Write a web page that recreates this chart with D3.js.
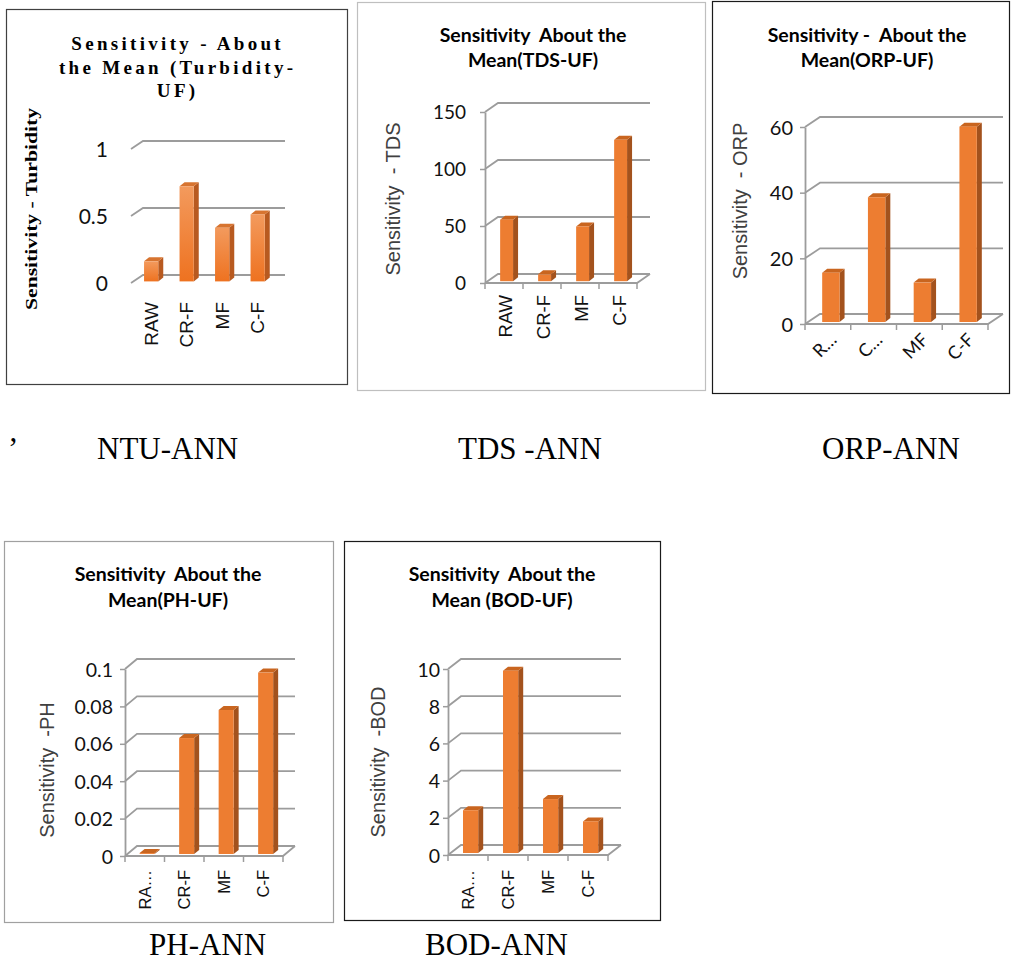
<!DOCTYPE html>
<html>
<head>
<meta charset="utf-8">
<script src="https://cdn.jsdelivr.net/npm/d3@7"></script>
<style>
  html, body { margin: 0; padding: 0; background: #ffffff; }
  svg { display: block; }
  text { white-space: pre; }
</style>
</head>
<body>
<svg id="fig" width="1012" height="961"></svg>
<script>
// ---- data ----
const categories = ["RAW", "CR-F", "MF", "C-F"];

const turbidityValues = [0.15, 0.71, 0.40, 0.50];
const tdsValues = [54, 6, 48, 124];
const orpValues = [15, 38, 12, 59.5];
const phValues = [0.0005, 0.062, 0.077, 0.097];
const bodValues = [2.3, 9.8, 2.9, 1.7];

const turbidityTicks = [0, 0.5, 1];
const tdsTicks = [0, 50, 100, 150];
const orpTicks = [0, 20, 40, 60];
const phTicks = [0, 0.02, 0.04, 0.06, 0.08, 0.1];
const bodTicks = [0, 2, 4, 6, 8, 10];

const turbidityLabels = ["RAW", "CR-F", "MF", "C-F"];
const tdsLabels = ["RAW", "CR-F", "MF", "C-F"];
const orpLabels = ["R\u2026", "C\u2026", "MF", "C-F"];
const phLabels = ["RA\u2026", "CR-F", "MF", "C-F"];
const bodLabels = ["RA\u2026", "CR-F", "MF", "C-F"];

const captions = ["NTU-ANN", "TDS -ANN", "ORP-ANN", "PH-ANN", "BOD-ANN"];

// ---- layout ----
const svg = d3.select("#fig");
const CAL = "Lato, 'Open Sans', sans-serif";
const ARIAL = "'Liberation Sans', Arial, sans-serif";
const TIMES = "'Liberation Serif', 'Times New Roman', serif";

const panels = [
  {
    values: turbidityValues, ticks: turbidityTicks, labels: turbidityLabels,
    frame: [6, 9, 341, 375], frameColor: "#404040",
    title: ["Sensitivity - About", "the Mean (Turbidity-", "UF)"],
    titleX: 176, titleY: [50, 74, 97], titleFont: TIMES, titleSize: 19, titleSpacing: 3.3,
    yTitle: "Sensitivity - Turbidity", yTitleX: 37, yTitleMid: 209, yTitleFont: TIMES, yTitleSize: 17, yTitleWeight: "bold", yTitleLen: 202,
    x0: 131, x1: 273, y0: 283, yTop: 149, dx: 12, dy: -8,
    axisLine: false, tickSize: 0, tickRight: 108, tickFontSize: 21,
    catMode: "v", catTop: 302, catSize: 19, catShift: 2,
    pad: 0.6, gradient: true
  },
  {
    values: tdsValues, ticks: tdsTicks, labels: tdsLabels,
    frame: [357, 2, 348, 388], frameColor: "#bfbfbf",
    title: ["Sensitivity  About the", "Mean(TDS-UF)"],
    titleX: 533, titleY: [42, 67], titleFont: CAL, titleSize: 19.5, titleSpacing: 0,
    yTitle: "Sensitivity  - TDS", yTitleX: 400, yTitleMid: 199, yTitleFont: ARIAL, yTitleSize: 20, yTitleWeight: "normal",
    x0: 485, x1: 637, y0: 283, yTop: 112, dx: 13, dy: -9,
    axisLine: true, tickSize: 5, tickRight: 466, tickFontSize: 19,
    catMode: "v", catTop: 295, catSize: 18.5, catShift: 1,
    pad: 0.66, gradient: false
  },
  {
    values: orpValues, ticks: orpTicks, labels: orpLabels,
    frame: [712, 1, 297, 392], frameColor: "#1a1a1a",
    title: ["Sensitivity -  About the", "Mean(ORP-UF)"],
    titleX: 867, titleY: [42, 67], titleFont: CAL, titleSize: 19.5, titleSpacing: 0,
    yTitle: "Sensitivity  - ORP", yTitleX: 747, yTitleMid: 201, yTitleFont: ARIAL, yTitleSize: 20, yTitleWeight: "normal",
    x0: 805, x1: 988, y0: 324, yTop: 127, dx: 15, dy: -10,
    axisLine: true, tickSize: 5, tickRight: 793, tickFontSize: 20,
    catMode: "d", catTop: 341, catSize: 18, catShift: 10,
    pad: 0.62, gradient: false
  },
  {
    values: phValues, ticks: phTicks, labels: phLabels,
    frame: [4, 541, 329, 381], frameColor: "#a0a0a0",
    title: ["Sensitivity  About the", "Mean(PH-UF)"],
    titleX: 168, titleY: [581, 607], titleFont: CAL, titleSize: 19.5, titleSpacing: 0,
    yTitle: "Sensitivity  -PH", yTitleX: 54, yTitleMid: 770, yTitleFont: ARIAL, yTitleSize: 20, yTitleWeight: "normal",
    x0: 125, x1: 283, y0: 856, yTop: 669, dx: 12, dy: -10,
    axisLine: true, tickSize: 5, tickRight: 113, tickFontSize: 19.5,
    catMode: "v", catTop: 870, catSize: 16.5, catShift: 0,
    pad: 0.62, gradient: false
  },
  {
    values: bodValues, ticks: bodTicks, labels: bodLabels,
    frame: [344, 541, 316, 379], frameColor: "#1a1a1a",
    title: ["Sensitivity  About the", "Mean (BOD-UF)"],
    titleX: 502, titleY: [581, 607], titleFont: CAL, titleSize: 19.5, titleSpacing: 0,
    yTitle: "Sensitivity  -BOD", yTitleX: 385, yTitleMid: 762, yTitleFont: ARIAL, yTitleSize: 20, yTitleWeight: "normal",
    x0: 448, x1: 608, y0: 855, yTop: 669, dx: 13, dy: -10,
    axisLine: true, tickSize: 5, tickRight: 440, tickFontSize: 19.5,
    catMode: "v", catTop: 870, catSize: 16.5, catShift: 0,
    pad: 0.62, gradient: false
  }
];

// vertical gradient for the shaded bars of the first chart
const defs = svg.append("defs");
const grad = defs.append("linearGradient").attr("id", "barGrad")
  .attr("x1", 0).attr("y1", 0).attr("x2", 0).attr("y2", 1);
grad.append("stop").attr("offset", "0%").attr("stop-color", "#f39a5d");
grad.append("stop").attr("offset", "100%").attr("stop-color", "#ee7220");

const GRID = "#9c9c9c";

function drawPanel(p) {
  const g = svg.append("g");

  // frame
  g.append("rect")
    .attr("x", p.frame[0] + 0.5).attr("y", p.frame[1] + 0.5)
    .attr("width", p.frame[2]).attr("height", p.frame[3])
    .attr("fill", "#fff").attr("stroke", p.frameColor).attr("stroke-width", 1.2);

  // title
  p.title.forEach((line, i) => {
    g.append("text")
      .attr("x", p.titleX + p.titleSpacing / 2).attr("y", p.titleY[i])
      .attr("text-anchor", "middle")
      .attr("font-family", p.titleFont).attr("font-weight", "bold")
      .attr("font-size", p.titleSize)
      .attr("letter-spacing", p.titleSpacing)
      .attr("fill", "#000")
      .text(line);
  });

  // scales
  const y = d3.scaleLinear()
    .domain([p.ticks[0], p.ticks[p.ticks.length - 1]])
    .range([p.y0, p.yTop]);
  const x = d3.scaleBand().domain(categories)
    .range([p.x0, p.x1]).paddingInner(p.pad).paddingOuter(p.pad / 2);

  // gridlines on the back wall, joined to the front by a short slant
  g.append("g").selectAll("path").data(p.ticks).join("path")
    .attr("d", t => {
      const yy = y(t);
      return `M${p.x0},${yy} L${p.x0 + p.dx},${yy + p.dy} L${p.x1 + p.dx},${yy + p.dy}`;
    })
    .attr("fill", "none").attr("stroke", GRID).attr("stroke-width", 1.8);

  if (p.axisLine) {
    // floor outline
    g.append("path")
      .attr("d", `M${p.x0},${p.y0} L${p.x1},${p.y0} L${p.x1 + p.dx},${p.y0 + p.dy}`)
      .attr("fill", "none").attr("stroke", GRID).attr("stroke-width", 1.8);
    // category boundary ticks
    g.append("g").selectAll("line").data(d3.range(categories.length + 1)).join("line")
      .attr("x1", i => p.x0 + i * x.step()).attr("x2", i => p.x0 + i * x.step())
      .attr("y1", p.y0).attr("y2", p.y0 + 6)
      .attr("stroke", GRID).attr("stroke-width", 1.5);
  }

  // value axis
  const axis = d3.axisLeft(y).tickValues(p.ticks)
    .tickSize(p.tickSize).tickSizeOuter(0)
    .tickPadding(p.x0 - p.tickRight - p.tickSize)
    .tickFormat(d3.format("~g"));
  const ag = g.append("g").attr("transform", `translate(${p.x0},0)`).call(axis);
  ag.select(".domain").attr("stroke", p.axisLine ? GRID : "none").attr("stroke-width", 1.8);
  ag.selectAll(".tick line").attr("stroke", GRID).attr("stroke-width", 1.5);
  ag.selectAll(".tick text")
    .attr("font-family", CAL).attr("font-size", p.tickFontSize)
    .attr("fill", "#111").attr("dy", "0.36em");

  // axis title
  const yt = g.append("text")
    .attr("transform", `translate(${p.yTitleX},${p.yTitleMid}) rotate(-90)`)
    .attr("text-anchor", "middle")
    .attr("font-family", p.yTitleFont).attr("font-size", p.yTitleSize)
    .attr("font-weight", p.yTitleWeight)
    .attr("fill", p.yTitleWeight === "bold" ? "#000" : "#404040")
    .text(p.yTitle);
  if (p.yTitleLen) yt.attr("textLength", p.yTitleLen).attr("lengthAdjust", "spacingAndGlyphs");

  // category labels
  categories.forEach((c, i) => {
    const cx = x(c) + x.bandwidth() / 2 + p.catShift;
    const font = p.catMode === "d" ? CAL : ARIAL;
    const t = g.append("text")
      .attr("font-family", font).attr("font-size", p.catSize)
      .attr("fill", "#111").attr("text-anchor", "end")
      .text(p.labels[i]);
    if (p.catMode === "v") {
      t.attr("transform", `translate(${cx + p.catSize * 0.36},${p.catTop}) rotate(-90)`);
    } else {
      t.attr("transform", `translate(${cx},${p.catTop}) rotate(-45)`);
    }
  });

  // bars: front face, right side, top face
  const bx = p.dx * 0.2, by = p.dy * 0.2;   // bars sit a little behind the front edge
  const sx = 5, sy = -4;                    // bar depth
  const bars = g.append("g").selectAll("g").data(categories.map((c, i) => ({ c, v: p.values[i] }))).join("g");
  bars.each(function (d) {
    const b = d3.select(this);
    const left = x(d.c) + bx;
    const w = x.bandwidth();
    const top = y(d.v) + by;
    const bottom = y(0) + by;
    b.append("path")
      .attr("d", `M${left + w},${top} L${left + w + sx},${top + sy} L${left + w + sx},${bottom + sy} L${left + w},${bottom} Z`)
      .attr("fill", p.gradient ? "#b85a20" : "#a3521d");
    b.append("path")
      .attr("d", `M${left},${top} L${left + sx},${top + sy} L${left + w + sx},${top + sy} L${left + w},${top} Z`)
      .attr("fill", p.gradient ? "#d77430" : "#c9651f");
    b.append("rect")
      .attr("x", left).attr("y", top)
      .attr("width", w).attr("height", Math.max(0, bottom - top))
      .attr("fill", p.gradient ? "url(#barGrad)" : "#ed7d31");
  });
}

panels.forEach(drawPanel);

// captions under each chart
const capPos = [[97, 459], [458, 459], [822, 459], [149, 955], [425, 955]];
svg.append("g").selectAll("text").data(captions).join("text")
  .attr("x", (d, i) => capPos[i][0]).attr("y", (d, i) => capPos[i][1])
  .attr("font-family", TIMES).attr("font-size", 31).attr("fill", "#000")
  .text(d => d);
svg.append("text").attr("x", 8).attr("y", 459)
  .attr("font-family", TIMES).attr("font-size", 31).attr("fill", "#000")
  .text("\u2019");
</script>
</body>
</html>
